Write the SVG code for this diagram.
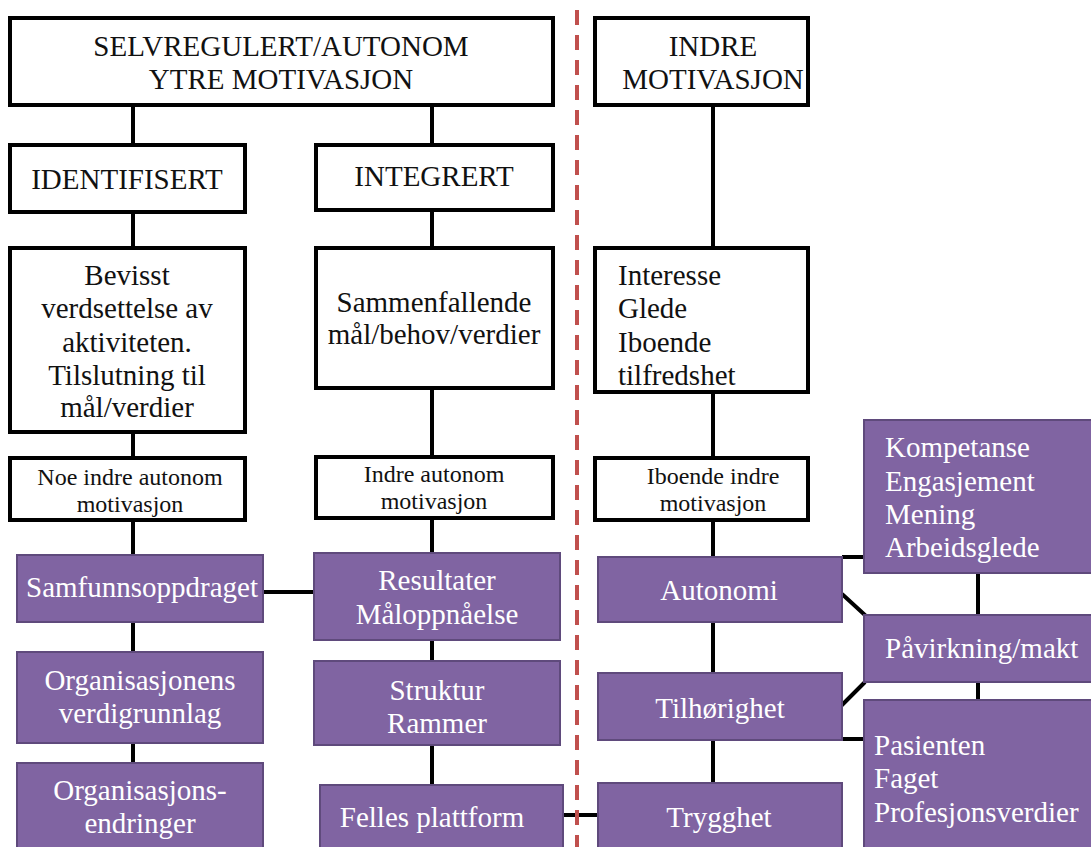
<svg xmlns="http://www.w3.org/2000/svg" width="1091" height="847" viewBox="0 0 1091 847" font-family="Liberation Serif, Times New Roman, serif">
<style>
.wb{fill:#ffffff;stroke:#000000;stroke-width:4}
.pb{fill:#8064a2;stroke:#5f4a7c;stroke-width:2}
.t{font-size:29px;fill:#111111}
.ts{font-size:24px;fill:#111111}
.tw{font-size:29px;fill:#ffffff}
.c{text-anchor:middle}
.ln{stroke:#000000;stroke-width:4;fill:none}
</style>
<rect width="1091" height="847" fill="#ffffff"/>
<g id="connectors">
<path class="ln" d="M133 105V145M133 212V248M133 432V458M133 520V555M133 622V652M133 743V763"/>
<path class="ln" d="M432 105V145M432 210V248M432 388V457M432 518V553M432 640V661M432 745V785"/>
<path class="ln" d="M713 105V248M713 392V458M713 520V557M713 622V673M713 740V783"/>
<path class="ln" d="M263 592H314M563 815H598"/>
<path class="ln" d="M842 557H864M842 594L866 616M978 573V615M840 707L865 682M840 739H864M978 682V700"/>
</g>
<line id="divider" x1="577" y1="10" x2="577" y2="847" stroke="#c0504d" stroke-width="4" stroke-dasharray="15 10"/>
<g id="selvregulert"><rect class="wb" x="10" y="18" width="543" height="87"/><text class="t c" x="281" y="56">SELVREGULERT/AUTONOM</text><text class="t c" x="281" y="89">YTRE MOTIVASJON</text></g>
<g id="indre"><rect class="wb" x="595" y="18" width="213" height="87"/><text class="t c" x="713" y="56">INDRE</text><text class="t c" x="713" y="89">MOTIVASJON</text></g>
<g id="identifisert"><rect class="wb" x="10" y="145" width="235" height="67"/><text class="t c" x="127" y="189">IDENTIFISERT</text></g>
<g id="integrert"><rect class="wb" x="316" y="145" width="237" height="65"/><text class="t c" x="434" y="186">INTEGRERT</text></g>
<g id="bevisst"><rect class="wb" x="10" y="248" width="235" height="184"/><text class="t c" x="127" y="285">Bevisst</text><text class="t c" x="127" y="318">verdsettelse av</text><text class="t c" x="127" y="352">aktiviteten.</text><text class="t c" x="127" y="385">Tilslutning til</text><text class="t c" x="127" y="417">mål/verdier</text></g>
<g id="sammenfallende"><rect class="wb" x="316" y="248" width="237" height="140"/><text class="t c" x="434" y="312">Sammenfallende</text><text class="t c" x="434" y="344">mål/behov/verdier</text></g>
<g id="interesse"><rect class="wb" x="595" y="248" width="213" height="144"/><text class="t" x="618" y="285">Interesse</text><text class="t" x="618" y="318">Glede</text><text class="t" x="618" y="352">Iboende</text><text class="t" x="618" y="385">tilfredshet</text></g>
<g id="noe-indre"><rect class="wb" x="10" y="458" width="235" height="62"/><text class="ts c" x="130" y="485">Noe indre autonom</text><text class="ts c" x="130" y="512">motivasjon</text></g>
<g id="indre-autonom"><rect class="wb" x="316" y="457" width="237" height="61"/><text class="ts c" x="434" y="482">Indre autonom</text><text class="ts c" x="434" y="509">motivasjon</text></g>
<g id="iboende-indre"><rect class="wb" x="595" y="458" width="213" height="62"/><text class="ts c" x="713" y="484">Iboende indre</text><text class="ts c" x="713" y="511">motivasjon</text></g>
<g id="samfunnsoppdraget"><rect class="pb" x="17" y="555" width="246" height="67"/><text class="tw c" x="142" y="597">Samfunnsoppdraget</text></g>
<g id="organisasjonens"><rect class="pb" x="17" y="652" width="246" height="91"/><text class="tw c" x="140" y="690">Organisasjonens</text><text class="tw c" x="140" y="723">verdigrunnlag</text></g>
<g id="organisasjonsendringer"><rect class="pb" x="17" y="763" width="246" height="90"/><text class="tw c" x="140" y="800">Organisasjons-</text><text class="tw c" x="140" y="833">endringer</text></g>
<g id="resultater"><rect class="pb" x="314" y="553" width="246" height="87"/><text class="tw c" x="437" y="590">Resultater</text><text class="tw c" x="437" y="624">Måloppnåelse</text></g>
<g id="struktur"><rect class="pb" x="314" y="661" width="246" height="84"/><text class="tw c" x="437" y="700">Struktur</text><text class="tw c" x="437" y="733">Rammer</text></g>
<g id="felles"><rect class="pb" x="320" y="785" width="243" height="68"/><text class="tw c" x="432" y="827">Felles plattform</text></g>
<g id="autonomi"><rect class="pb" x="598" y="557" width="244" height="65"/><text class="tw c" x="719" y="600">Autonomi</text></g>
<g id="tilhorighet"><rect class="pb" x="598" y="673" width="244" height="67"/><text class="tw c" x="720" y="718">Tilhørighet</text></g>
<g id="trygghet"><rect class="pb" x="598" y="783" width="244" height="70"/><text class="tw c" x="719" y="827">Trygghet</text></g>
<g id="kompetanse"><rect class="pb" x="864" y="420" width="232" height="153"/><text class="tw" x="885" y="457">Kompetanse</text><text class="tw" x="885" y="491">Engasjement</text><text class="tw" x="885" y="524">Mening</text><text class="tw" x="885" y="557">Arbeidsglede</text></g>
<g id="pavirkning"><rect class="pb" x="864" y="615" width="232" height="67"/><text class="tw" x="885" y="658">Påvirkning/makt</text></g>
<g id="pasienten"><rect class="pb" x="864" y="700" width="232" height="153"/><text class="tw" x="874" y="755">Pasienten</text><text class="tw" x="874" y="788">Faget</text><text class="tw" x="874" y="822">Profesjonsverdier</text></g>
</svg>
